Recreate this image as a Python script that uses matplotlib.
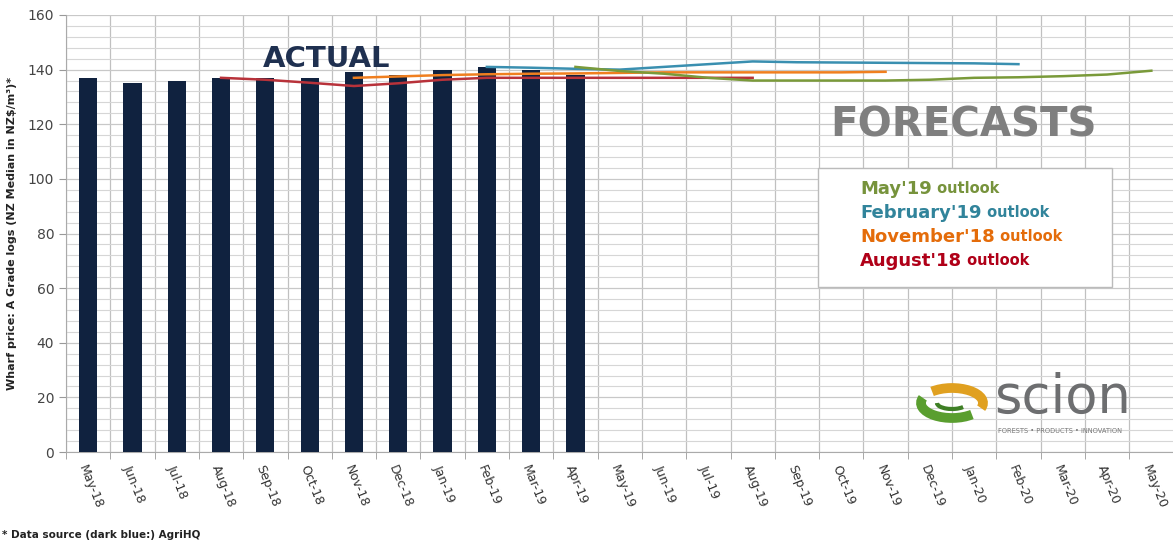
import matplotlib
matplotlib.use('Agg')
import matplotlib.pyplot as plt
from matplotlib.patches import Arc, Rectangle
import numpy as np

months = ['May-18', 'Jun-18', 'Jul-18', 'Aug-18', 'Sep-18', 'Oct-18', 'Nov-18', 'Dec-18',
          'Jan-19', 'Feb-19', 'Mar-19', 'Apr-19', 'May-19', 'Jun-19', 'Jul-19', 'Aug-19',
          'Sep-19', 'Oct-19', 'Nov-19', 'Dec-19', 'Jan-20', 'Feb-20', 'Mar-20', 'Apr-20', 'May-20']

# actual prices (AgriHQ), May-18 .. Apr-19
actual = [137, 135, 136, 137, 137, 137, 139, 138, 140, 141, 140, 138]

# forecasts: first month index + values
aug18_start = 3
aug18 = [137, 136.3, 135.2, 134, 135, 136.3, 137, 137, 137, 137, 137, 137, 137]
nov18_start = 6
nov18 = [137, 137.5, 138, 138.3, 138.5, 138.6, 138.8, 139, 139, 139, 139, 139, 139.2]
feb19_start = 9
feb19 = [141, 140.7, 140.3, 140, 141, 142, 143, 142.7, 142.6, 142.5, 142.4, 142.3, 142]
may19_start = 11
may19 = [141, 139.5, 138.5, 137, 136, 136, 136, 136, 136.3, 137, 137.2, 137.6, 138.2, 139.6]

outlooks = [
    ("May'19", 'outlook', '#77933C', '#7A9A3A', may19_start, may19),
    ("February'19", 'outlook', '#31849B', '#3A8FB0', feb19_start, feb19),
    ("November'18", 'outlook', '#E46C0A', '#F07F1F', nov18_start, nov18),
    ("August'18", 'outlook', '#B00018', '#B8323A', aug18_start, aug18),
]

fig = plt.figure(figsize=(11.73, 5.43), dpi=100)
ax = fig.add_axes([66 / 1173, 91 / 543, 1107.5 / 1173, 437 / 543])

x = np.arange(len(months))
ax.bar(x[:len(actual)], actual, width=0.41, color='#10223F', zorder=3)

# older outlooks underneath
for name, suffix, tcol, lcol, start, vals in outlooks[::-1]:
    ax.plot(np.arange(start, start + len(vals)), vals, color=lcol, lw=1.8, zorder=4)

ax.set_xlim(-0.5, len(months) - 0.5)
ax.set_ylim(0, 160)
ax.set_yticks(np.arange(0, 161, 20))
ax.set_yticks(np.arange(0, 161, 4), minor=True)
ax.set_xticks(x)
ax.set_xticks(np.arange(-0.5, len(months)), minor=True)
ax.set_xticklabels(months, rotation=-68, ha='left', va='top', rotation_mode='anchor',
                   fontsize=9, color='#333333')
ax.tick_params(axis='x', which='major', length=0, pad=8)
ax.tick_params(axis='x', which='minor', length=5, color='#999999')
ax.tick_params(axis='y', which='major', length=5, color='#999999', labelsize=10, labelcolor='#444444')
ax.tick_params(axis='y', which='minor', length=0)

ax.grid(which='minor', axis='y', color='#D6D6D6', lw=0.8, zorder=0)
ax.grid(which='major', axis='y', color='#C8C8C8', lw=0.9, zorder=0)
ax.grid(which='minor', axis='x', color='#C0C0C0', lw=0.9, zorder=0)
ax.grid(which='major', axis='x', visible=False)
ax.set_axisbelow(True)

for s in ['top', 'right']:
    ax.spines[s].set_visible(False)
ax.spines['left'].set_color('#AAAAAA')
ax.spines['bottom'].set_color('#AAAAAA')

ax.set_ylabel('Wharf price: A Grade logs (NZ Median in NZ$/m\u00b3)*', fontsize=8,
              fontweight='bold', color='#222222', labelpad=8)

ax.text(0.235, 0.9, 'ACTUAL', transform=ax.transAxes, fontsize=21, fontweight='bold',
        color='#1F3050', ha='center', va='center')
ax.text(0.810, 0.746, 'FORECASTS', transform=ax.transAxes, fontsize=29, fontweight='bold',
        color='#7F7F7F', ha='center', va='center')

# legend box
ft = fig.transFigure
ax.add_patch(Rectangle((818 / 1173, (543 - 287) / 543), 294 / 1173, 119 / 543, transform=ft,
                       facecolor='white', edgecolor='#BBBBBB', lw=1, zorder=5, clip_on=False))
for i, (name, suffix, tcol, lcol, start, vals) in enumerate(outlooks):
    t = ax.text(860 / 1173, 1 - (189 + i * 24) / 543, name, transform=ft, fontsize=13,
                fontweight='bold', color=tcol, va='center', ha='left', zorder=6, clip_on=False)
    ax.annotate(' ' + suffix, xy=(1, 0.12), xycoords=t, fontsize=10.5, fontweight='bold',
                color=tcol, va='bottom', ha='left', annotation_clip=False, zorder=6)

# scion logo
lax = fig.add_axes([915 / 1173, 1 - 425 / 543, 75 / 1173, 45 / 543])
lax.set_xlim(0, 75)
lax.set_ylim(0, 45)
lax.axis('off')
lax.add_patch(Arc((37, 22), 62, 30, theta1=170, theta2=330, lw=7, color='#5A9E2F'))
lax.add_patch(Arc((37, 22), 62, 30, theta1=-10, theta2=150, lw=7, color='#E0A020'))
lax.add_patch(Arc((37, 22), 30, 12, theta1=180, theta2=340, lw=3, color='#3E7F25'))
fig.text(994 / 1173, 1 - 398 / 543, 'scion', fontsize=38, color='#6D6E70', va='center',
         ha='left')
fig.text(998 / 1173, 1 - 431 / 543, 'FORESTS \u2022 PRODUCTS \u2022 INNOVATION', fontsize=4.8,
         color='#777777', va='center', ha='left')

fig.text(2 / 1173, 1 - 535 / 543, '* Data source (dark blue:) AgriHQ', fontsize=7.5,
         fontweight='bold', color='#222222', va='center', ha='left')

fig.savefig('out.png', dpi=100, facecolor='white')
